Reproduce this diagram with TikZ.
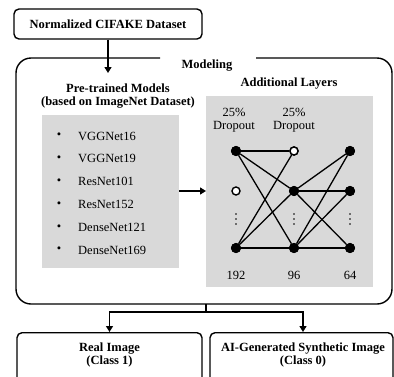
\documentclass[tikz,border=0pt]{standalone}
\usepackage{fontspec}
\setmainfont{Liberation Serif}
\usetikzlibrary{arrows.meta}
\definecolor{panelgray}{RGB}{217,217,217}
\tikzset{
  box/.style={draw, line width=1.4pt, rounded corners=5pt, font=\fontsize{12.5}{14}\selectfont\bfseries, align=center, inner sep=0pt},
  ttl/.style={font=\fontsize{12.5}{13.5}\selectfont\bfseries, align=center, inner sep=0pt},
  txt/.style={font=\fontsize{12.5}{13.5}\selectfont, inner sep=0pt},
  arr/.style={line width=1.4pt, -{Triangle[length=6pt,width=7pt]}},
  ln/.style={line width=1.4pt},
  neuron/.style={circle, fill=black, draw=black, line width=1pt, minimum size=9pt, inner sep=0pt},
  drop/.style={circle, fill=white, draw=black, line width=1.4pt, minimum size=8pt, inner sep=0pt},
  edge/.style={line width=1.3pt},
  vdot/.style={circle, fill=black, minimum size=1.8pt, inner sep=0pt},
}
\begin{document}
\begin{tikzpicture}[x=1pt,y=-1pt]
\clip (0,0) rectangle (394,376);
\fill[white] (0,0) rectangle (394,376);
% top box
\node[box, minimum width=188pt, minimum height=30pt] (top) at (108,24) {Normalized CIFAKE Dataset};
% modeling frame
\draw[ln, rounded corners=15pt] (256,58) -- (392,58) -- (392,304) -- (16,304) -- (16,58) -- (160,58);
\node[ttl] (modeling) at (207,66) {Modeling};
\coordinate (entry) at (108,73);
\draw[arr] (top.south) -- (entry);
% left panel
\node[ttl] (pretitle) at (118,96) {Pre-trained Models\\(based on ImageNet Dataset)};
\fill[panelgray] (42,115) rectangle (179,268);
\coordinate (lpR) at (179,191);
\foreach \t [count=\i] in {VGGNet16,VGGNet19,ResNet101,ResNet152,DenseNet121,DenseNet169}{
  \node[txt] (b\i) at (59,{136+22.8*(\i-1)}) {\textbullet};
  \node[txt, anchor=west] (m\i) at (78,{136+22.8*(\i-1)}) {\t};
}
% right panel
\node[ttl] (addtitle) at (289,84) {Additional Layers};
\fill[panelgray] (206,96) rectangle (373,287);
\coordinate (rpL) at (206,191);
\draw[arr] (lpR) -- (rpL);
\node[txt, align=center] (d1) at (234,120) {25\%\\[-1pt]Dropout};
\node[txt, align=center] (d2) at (294,120) {25\%\\[-1pt]Dropout};
% neurons
\node[neuron] (a1) at (236,151) {};
\node[drop]   (a2) at (236,191) {};
\node[neuron] (a3) at (236,248) {};
\node[drop]   (h1) at (294,151) {};
\node[neuron] (h2) at (294,191) {};
\node[neuron] (h3) at (294,248) {};
\node[neuron] (o1) at (350,151) {};
\node[neuron] (o2) at (350,191) {};
\node[neuron] (o3) at (350,248) {};
\foreach \s in {a1,a3}{\foreach \t in {h1,h2,h3}{\draw[edge] (\s) -- (\t);}}
\foreach \s in {h2,h3}{\foreach \t in {o1,o2,o3}{\draw[edge] (\s) -- (\t);}}
\node[neuron] at (236,151) {};
\node[neuron] at (236,248) {};
\node[drop] at (294,151) {};
\node[neuron] at (294,191) {};
\node[neuron] at (294,248) {};
\node[neuron] at (350,151) {};
\node[neuron] at (350,191) {};
\node[neuron] at (350,248) {};
\foreach \x in {236,294,350}{
  \foreach \y in {214,219,224}{\node[vdot] at (\x,\y) {};}
}
\node[txt] (n1) at (236,275) {192};
\node[txt] (n2) at (294,275) {96};
\node[txt] (n3) at (350,275) {64};
% outputs
\node[box, minimum width=185pt, minimum height=60pt, anchor=north] (real) at (109.5,332) {};
\node[box, minimum width=183pt, minimum height=60pt, anchor=north] (fake) at (301.5,332) {};
\node[ttl] (realt) at (109.5,355) {Real Image\\(Class 1)};
\node[ttl] (faket) at (303,355) {AI-Generated Synthetic Image\\(Class 0)};
\coordinate (exit) at (206,304);
\coordinate (split) at (206,312);
\draw[ln] (exit) -- (split);
\draw[arr] (split) -| (real.north -| realt);
\draw[arr] (split) -| (fake.north -| faket);
\end{tikzpicture}
\end{document}
